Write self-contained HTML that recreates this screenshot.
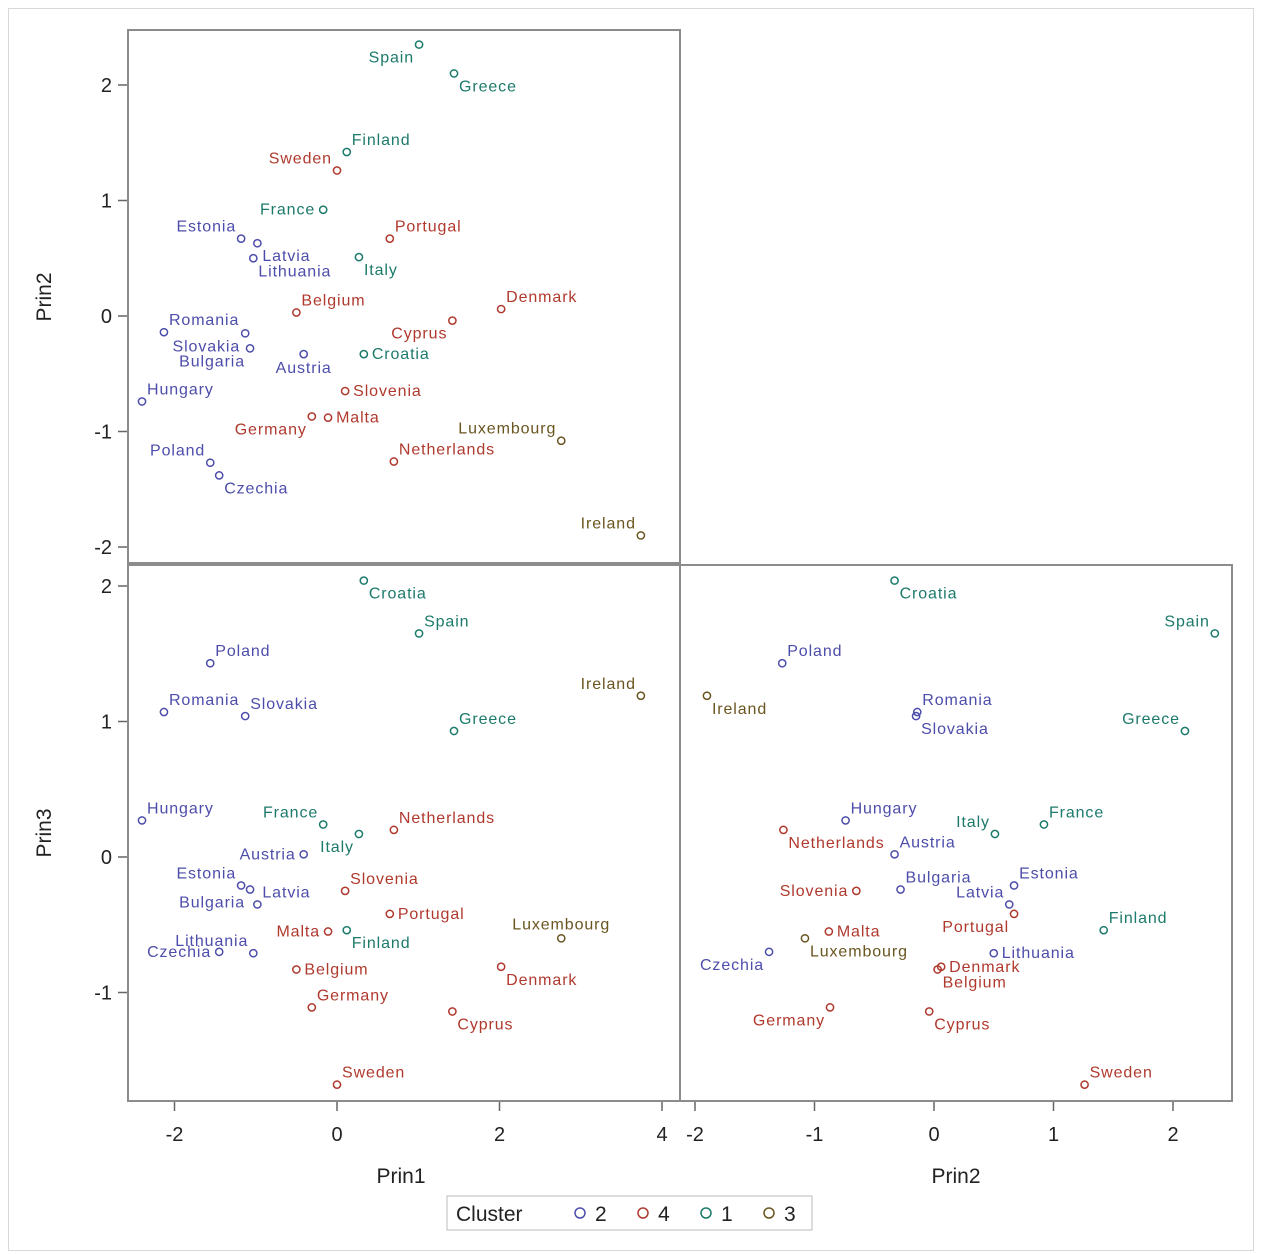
<!DOCTYPE html>
<html><head><meta charset="utf-8">
<style>
body{margin:0;background:#fff;}
svg{display:block;font-family:"Liberation Sans",sans-serif;}
</style></head>
<body>
<svg id="chart" width="1280" height="1254" viewBox="0 0 1280 1254" xmlns="http://www.w3.org/2000/svg">
<rect x="8.5" y="8.5" width="1245" height="1242" fill="#fff" stroke="#d8d8d8"/>
<g id="plot"></g>
</svg>
<script>
const countries=["Spain","Greece","Finland","Sweden","France","Portugal","Estonia","Latvia","Lithuania","Italy","Belgium","Denmark","Cyprus","Romania","Slovakia","Bulgaria","Austria","Croatia","Slovenia","Hungary","Malta","Germany","Luxembourg","Netherlands","Poland","Czechia","Ireland"];
const prin1=[1.01,1.44,0.12,0.0,-0.17,0.65,-1.18,-0.98,-1.03,0.27,-0.50,2.02,1.42,-2.13,-1.13,-1.07,-0.41,0.33,0.10,-2.40,-0.11,-0.31,2.76,0.70,-1.56,-1.45,3.74];
const prin2=[2.35,2.10,1.42,1.26,0.92,0.67,0.67,0.63,0.50,0.51,0.03,0.06,-0.04,-0.14,-0.15,-0.28,-0.33,-0.33,-0.65,-0.74,-0.88,-0.87,-1.08,-1.26,-1.27,-1.38,-1.90];
const prin3=[1.65,0.93,-0.54,-1.68,0.24,-0.42,-0.21,-0.35,-0.71,0.17,-0.83,-0.81,-1.14,1.07,1.04,-0.24,0.02,2.04,-0.25,0.27,-0.55,-1.11,-0.60,0.20,1.43,-0.70,1.19];
const cluster=[1,1,1,4,1,4,2,2,2,1,4,4,4,2,2,2,2,1,4,2,4,4,3,4,2,2,3];
const clusterOrder=[2,4,1,3];
const prin1Ticks=[-2,0,2,4];
const prin2Ticks=[-2,-1,0,1,2];
const prin3Ticks=[-1,0,1,2];
const labTop=["sw","se","ne","nw","w","ne","nw","se","se","se","ne","ne","sw","ne","sw","sw","s","e","e","ne","e","sw","nw","ne","nw","se","nw"];
const labBL=["ne","ne","se","ne","nw","e","nw","ne","nw","sw","e","se","se","ne","ne","sw","w","se","ne","ne","w","ne","n","ne","ne","w","nw"];
const labBR=["nw","nw","ne","ne","ne","sw","ne","nw","e","nw","se","e","se","ne","se","ne","ne","se","w","ne","e","sw","se","se","ne","sw","se"];

const colors={2:"#4d4dab",4:"#b0392e",1:"#1c7a6b",3:"#6a5520"};
const NS="http://www.w3.org/2000/svg";
const g=document.getElementById('plot');
function el(t,a,parent){const e=document.createElementNS(NS,t);for(const k in a)e.setAttribute(k,a[k]);(parent||g).appendChild(e);return e;}
const x1=v=>337+v*81.25;
const y2=v=>316-v*115.5;
const y3=v=>857-v*135.5;
const x2=v=>934+v*119.5;
const off={ne:[5,-7,"start"],nw:[-5,-7,"end"],se:[5,18,"start"],sw:[-5,18,"end"],e:[8,5,"start"],w:[-8,5,"end"],n:[0,-9,"middle"],s:[0,19,"middle"]};

function panel(name,x0,y0,w,h,xs,ys,fx,fy,labs){
  const r=el('rect',{x:x0,y:y0,width:w,height:h,fill:'none',stroke:'#8c8c8c','stroke-width':2});
  
  
  for(let i=0;i<countries.length;i++){
    const px=fx(xs[i]),py=fy(ys[i]),c=colors[cluster[i]];
    const p=el('circle',{cx:px,cy:py,r:3.6,fill:'none',stroke:c,'stroke-width':1.5});
    
    
    const o=off[labs[i]];
    const t=el('text',{x:px+o[0],y:py+o[1],fill:c,'font-size':16,'letter-spacing':0.9,'text-anchor':o[2]});
    t.textContent=countries[i];
    
    
  }
}
panel('prin2-vs-prin1',128,30,552,533,prin1,prin2,x1,y2,labTop);
panel('prin3-vs-prin1',128,565,552,536,prin1,prin3,x1,y3,labBL);
panel('prin3-vs-prin2',680,565,552,536,prin2,prin3,x2,y3,labBR);

function yTicks(ticks,f,name){
  ticks.forEach(v=>{
    const y=f(v);
    el('line',{x1:118,x2:127,y1:y,y2:y,stroke:'#666','stroke-width':1.5});
    const t=el('text',{x:112,y:y+7,'font-size':20,'text-anchor':'end',fill:'#222'});
    t.textContent=v;
    
    
  });
}
function xTicks(ticks,f,name){
  ticks.forEach(v=>{
    const x=f(v);
    el('line',{x1:x,x2:x,y1:1102,y2:1111,stroke:'#666','stroke-width':1.5});
    const t=el('text',{x:x,y:1141,'font-size':20,'text-anchor':'middle',fill:'#222'});
    t.textContent=v;
    
    
  });
}
yTicks(prin2Ticks,y2,'prin2-y');
yTicks(prin3Ticks,y3,'prin3-y');
xTicks(prin1Ticks,x1,'prin1-x');
xTicks(prin2Ticks,x2,'prin2-x');

function title(txt,x,y,rot,name){
  const t=el('text',{x:x,y:y,'font-size':21,'text-anchor':'middle',fill:'#222'});
  if(rot)t.setAttribute('transform','rotate(-90 '+x+' '+y+')');
  t.textContent=txt;
  
  
}
title('Prin2',51,297,true,'prin2-y-axis-title');
title('Prin3',51,833,true,'prin3-y-axis-title');
title('Prin1',401,1183,false,'prin1-x-axis-title');
title('Prin2',956,1183,false,'prin2-x-axis-title');

const lg=el('g',{});


const lr=el('rect',{x:447,y:1196,width:365,height:34,fill:'#fff',stroke:'#bbb'},lg);


const lt=el('text',{x:456,y:1221,'font-size':21,fill:'#222'},lg);
lt.textContent='Cluster';


clusterOrder.forEach((c,i)=>{
  const bx=580+i*63;
  const ge=el('g',{},lg);
  
  
  el('circle',{cx:bx,cy:1213,r:5,fill:'none',stroke:colors[c],'stroke-width':1.5},ge);
  const t=el('text',{x:bx+15,y:1221,'font-size':21,fill:'#222'},ge);
  t.textContent=c;
});
</script>
</body></html>
